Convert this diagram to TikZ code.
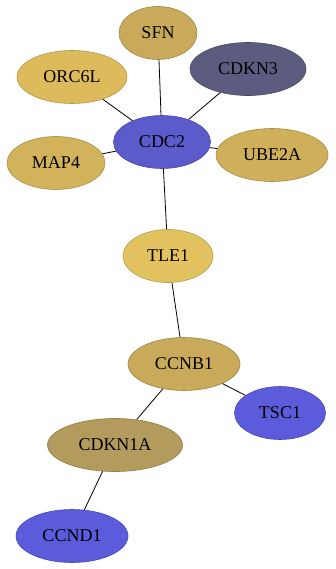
\documentclass[tikz,border=0pt]{standalone}
\usepackage{fontspec}
\setmainfont{Liberation Serif}
\usetikzlibrary{shapes.geometric}

\definecolor{goldA}{HTML}{C8AA5A}
\definecolor{goldB}{HTML}{DDBB5C}
\definecolor{goldC}{HTML}{E2C25E}
\definecolor{goldD}{HTML}{CFAF5A}
\definecolor{goldE}{HTML}{D2B25B}
\definecolor{khaki}{HTML}{B39B5E}
\definecolor{slate}{HTML}{5C5C80}
\definecolor{violet}{HTML}{5B5BCC}
\definecolor{royal}{HTML}{5B5BDB}

\tikzset{
  gene/.style={ellipse, draw=#1!80!black, fill=#1, line width=0.6pt, inner sep=0pt,
    minimum height=53pt, font=\fontsize{18}{20}\selectfont},
  edge/.style={black, line width=0.8pt}
}

\begin{document}
\begin{tikzpicture}[x=1pt, y=-1pt]
        \useasboundingbox (0,0) rectangle (335,569);

        % Genes
        \node[gene=goldA, minimum width=78pt]  (SFN)    at (158,33)  {SFN};
        \node[gene=slate, minimum width=116pt] (CDKN3)  at (248,69)  {CDKN3};
        \node[gene=goldB, minimum width=110pt] (ORC6L)  at (72,77)   {ORC6L};
        \node[gene=violet, minimum width=97pt] (CDC2)   at (162,142) {CDC2};
        \node[gene=goldD, minimum width=112pt] (UBE2A)  at (272,155) {UBE2A};
        \node[gene=goldE, minimum width=98pt]  (MAP4)   at (56,163)  {MAP4};
        \node[gene=goldC, minimum width=90pt]  (TLE1)   at (168,256) {TLE1};
        \node[gene=goldA, minimum width=112pt] (CCNB1)  at (184,364) {CCNB1};
        \node[gene=royal, minimum width=91pt]  (TSC1)   at (280,413) {TSC1};
        \node[gene=khaki, minimum width=135pt] (CDKN1A) at (115,445) {CDKN1A};
        \node[gene=royal, minimum width=112pt] (CCND1)  at (72,536)  {CCND1};

        % Interactions
        \foreach \a/\b in {CDC2/SFN, CDC2/CDKN3, CDC2/ORC6L, CDC2/UBE2A, CDC2/MAP4,
                           CDC2/TLE1, TLE1/CCNB1, CCNB1/TSC1, CCNB1/CDKN1A, CDKN1A/CCND1}
            \draw[edge] (\a) -- (\b);
    \end{tikzpicture}
\end{document}
